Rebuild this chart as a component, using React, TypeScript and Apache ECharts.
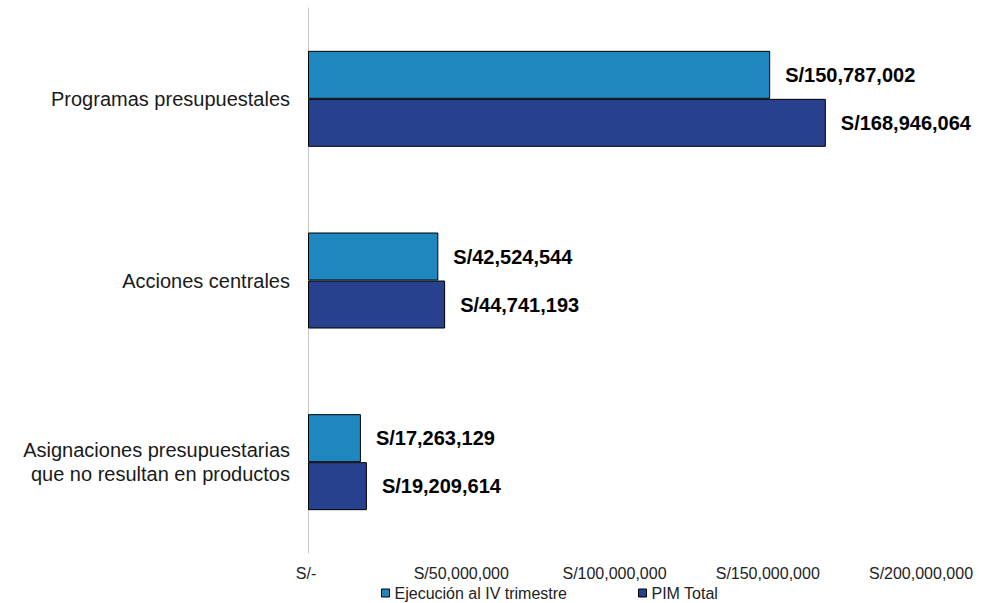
import React, { useEffect, useRef } from "react";
import * as echarts from "echarts";

const categories = [
  "Programas presupuestales",
  "Acciones centrales",
  "Asignaciones presupuestarias\nque no resultan en productos",
];
const seriesNames = ["Ejecución al IV trimestre", "PIM Total"];
const ejecucion = [150787002, 42524544, 17263129];
const pimTotal = [168946064, 44741193, 19209614];
const colors = ["#1F87BF", "#27418E"];

const fmt = (v: number) => "S/" + v.toLocaleString("en-US");
const FONT = "Liberation Sans, Arial, sans-serif";

export default function App() {
  const ref = useRef<HTMLDivElement>(null);
  useEffect(() => {
    const chart = echarts.init(ref.current!, undefined, { renderer: "svg" });
    const label = {
      show: true,
      position: "right",
      distance: 15,
      formatter: (p: any) => fmt(p.value),
      fontFamily: FONT,
      fontWeight: "bold",
      fontSize: 20,
      color: "#000",
    };
    const legendBase = {
      top: 585,
      padding: 0,
      itemWidth: 8,
      itemHeight: 8,
      icon: "rect",
      textStyle: { fontFamily: FONT, fontSize: 16, color: "#222" },
    };
    chart.setOption({
      animation: false,
      backgroundColor: "#fff",
      grid: { left: 308, right: 74, top: 8, bottom: 50, containLabel: false },
      legend: seriesNames.map((n, i) => ({
        ...legendBase,
        left: i === 0 ? 381 : 638,
        data: [
          {
            name: n,
            itemStyle: { color: colors[i], borderColor: "#000", borderWidth: 1 },
          },
        ],
      })),
      xAxis: {
        type: "value",
        min: 0,
        max: 200000000,
        interval: 50000000,
        splitLine: { show: false },
        axisLine: { show: false },
        axisTick: { show: false },
        axisLabel: {
          margin: 12,
          fontFamily: FONT,
          fontSize: 16,
          color: "#222",
          formatter: (v: number) => (v === 0 ? "{z|S/-}" : fmt(v)),
          rich: {
            z: {
              fontFamily: FONT,
              fontSize: 16,
              color: "#222",
              padding: [0, 4, 0, 0],
            },
          },
        },
      },
      yAxis: {
        type: "category",
        inverse: true,
        data: categories,
        axisLine: { show: true, lineStyle: { color: "#C8C8C8", width: 1 } },
        axisTick: { show: false },
        axisLabel: {
          margin: 18,
          fontFamily: FONT,
          fontSize: 20,
          lineHeight: 24,
          color: "#1a1a1a",
          align: "right",
        },
      },
      series: [
        {
          name: seriesNames[0],
          type: "bar",
          data: ejecucion,
          barWidth: 48,
          barGap: "0%",
          itemStyle: { color: colors[0], borderColor: "#000", borderWidth: 1 },
          label,
        },
        {
          name: seriesNames[1],
          type: "bar",
          data: pimTotal,
          barWidth: 48,
          barGap: "0%",
          itemStyle: { color: colors[1], borderColor: "#000", borderWidth: 1 },
          label,
        },
      ],
    });
    return () => chart.dispose();
  }, []);
  return <div ref={ref} style={{ width: 995, height: 603, position: "absolute", left: 0, top: 0 }} />;
}
